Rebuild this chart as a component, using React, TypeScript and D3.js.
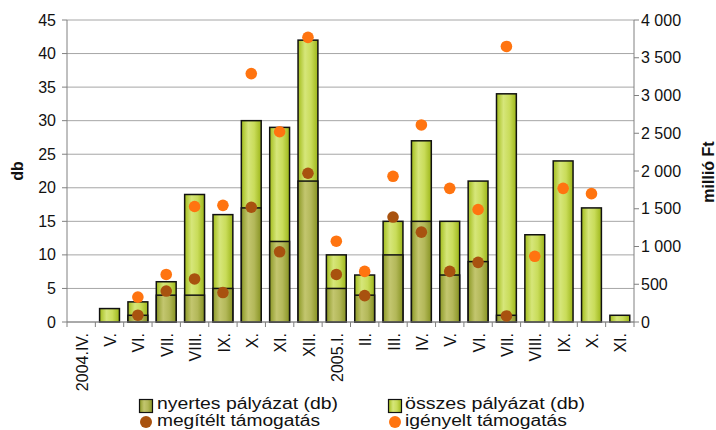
import React from "react";
import * as d3 from "d3";

const categories = ["2004.IV.", "V.", "VI.", "VII.", "VIII.", "IX.", "X.", "XI.", "XII.", "2005.I.", "II.", "III.", "IV.", "V.", "VI.", "VII.", "VIII.", "IX.", "X.", "XI."];
const osszes = [0, 2, 3, 6, 19, 16, 30, 29, 42, 10, 7, 15, 27, 15, 21, 34, 13, 24, 17, 1];
const nyertes = [0, 0, 1, 4, 4, 5, 17, 12, 21, 5, 4, 10, 15, 7, 9, 1, 0, 0, 0, 0];
const megitelt: (number | null)[] = [null, null, 90, 410, 570, 390, 1520, 930, 1970, 630, 350, 1390, 1190, 670, 790, 80, null, null, null, null];
const igenyelt: (number | null)[] = [null, null, 330, 630, 1530, 1545, 3290, 2520, 3770, 1070, 670, 1930, 2610, 1770, 1490, 3650, 870, 1770, 1700, null];
const leftTicks = [0, 5, 10, 15, 20, 25, 30, 35, 40, 45];
const rightTicks = [0, 500, 1000, 1500, 2000, 2500, 3000, 3500, 4000];
const legendLabels = ["nyertes pályázat (db)", "összes pályázat (db)", "megítélt támogatás", "igényelt támogatás"];

const FONT = "'Liberation Sans', Arial, sans-serif";

export default function App() {
  const left = 67, right = 634, top = 20, bottom = 322;
  const idx = categories.map((_, i) => i);
  const xBand = d3.scaleBand<number>().domain(idx).range([left, right]).paddingInner(0.3).paddingOuter(0.15);
  const xStep = d3.scaleBand<number>().domain(idx).range([left, right]).padding(0);
  const yL = d3.scaleLinear().domain([0, 45]).range([bottom, top]);
  const yR = d3.scaleLinear().domain([0, 4000]).range([bottom, top]);
  const bw = xBand.bandwidth();
  const fmt = (v: number) => (v >= 1000 ? `${Math.floor(v / 1000)} ${String(v % 1000).padStart(3, "0")}` : String(v));

  return (
    <svg width={716} height={430} style={{ position: "absolute", left: 0, top: 0, background: "#fff" }} fontFamily={FONT}>
      <defs>
        <linearGradient id="gOssz" x1="0" x2="1" y1="0" y2="0">
          <stop offset="0%" stopColor="#a3bd1c" />
          <stop offset="35%" stopColor="#d6e67a" />
          <stop offset="65%" stopColor="#c9dc5a" />
          <stop offset="100%" stopColor="#9db619" />
        </linearGradient>
        <linearGradient id="gNyer" x1="0" x2="1" y1="0" y2="0">
          <stop offset="0%" stopColor="#8c9926" />
          <stop offset="35%" stopColor="#c3c66f" />
          <stop offset="65%" stopColor="#b3b859" />
          <stop offset="100%" stopColor="#879322" />
        </linearGradient>
      </defs>
      {leftTicks.map((t) => (
        <line key={"g" + t} x1={left} x2={right} y1={yL(t)} y2={yL(t)} stroke="#a6a6a6" strokeWidth={1} />
      ))}
      {osszes.map((v, i) =>
        v > 0 ? (
          <rect key={"o" + i} x={xBand(i)} y={yL(v)} width={bw} height={yL(0) - yL(v)} fill="url(#gOssz)" stroke="#111" strokeWidth={1.5} />
        ) : null
      )}
      {nyertes.map((v, i) =>
        v > 0 ? (
          <rect key={"n" + i} x={xBand(i)} y={yL(v)} width={bw} height={yL(0) - yL(v)} fill="url(#gNyer)" stroke="#111" strokeWidth={1.5} />
        ) : null
      )}
      <line x1={left} x2={left} y1={top} y2={bottom} stroke="#808080" strokeWidth={1} />
      <line x1={right} x2={right} y1={top} y2={bottom} stroke="#808080" strokeWidth={1} />
      <line x1={left} x2={right} y1={bottom} y2={bottom} stroke="#808080" strokeWidth={1} />
      {leftTicks.map((t) => (
        <g key={"lt" + t}>
          <line x1={left - 5} x2={left} y1={yL(t)} y2={yL(t)} stroke="#808080" />
          <text x={56} y={yL(t)} dy="0.35em" textAnchor="end" fontSize={16} fill="#111">{t}</text>
        </g>
      ))}
      {rightTicks.map((t) => (
        <g key={"rt" + t}>
          <line x1={right} x2={right + 5} y1={yR(t)} y2={yR(t)} stroke="#808080" />
          <text x={641} y={yR(t)} dy="0.35em" textAnchor="start" fontSize={16} fill="#111">{fmt(t)}</text>
        </g>
      ))}
      {idx.concat([categories.length]).map((i) => {
        const x = i < categories.length ? (xStep(i) as number) : right;
        return <line key={"bt" + i} x1={x} x2={x} y1={bottom} y2={bottom + 5} stroke="#808080" />;
      })}
      {categories.map((c, i) => {
        const cx = (xStep(i) as number) + xStep.bandwidth() / 2;
        return (
          <text key={"c" + i} transform={`translate(${cx + 1},333) rotate(-90)`} textAnchor="end" dy="0.35em" fontSize={16} fill="#111">{c}</text>
        );
      })}
      {megitelt.map((v, i) =>
        v != null ? <circle key={"m" + i} cx={(xBand(i) as number) + bw / 2} cy={yR(v)} r={5.8} fill="#a8520f" /> : null
      )}
      {igenyelt.map((v, i) =>
        v != null ? <circle key={"ig" + i} cx={(xBand(i) as number) + bw / 2} cy={yR(v)} r={5.8} fill="#ff7410" /> : null
      )}
      <text transform="translate(17,171) rotate(-90)" textAnchor="middle" dy="0.35em" fontSize={16} fontWeight="bold" fill="#111">db</text>
      <text transform="translate(714,172) rotate(-90)" textAnchor="middle" fontSize={16} fontWeight="bold" fill="#111">millió Ft</text>
      <rect x={139.5} y={399.5} width={13} height={13} fill="url(#gNyer)" stroke="#111" strokeWidth={1.2} />
      <text x={157} y={409} fontSize={16} textLength={181} lengthAdjust="spacingAndGlyphs" fill="#111">{legendLabels[0]}</text>
      <rect x={388.5} y={399.5} width={13} height={13} fill="url(#gOssz)" stroke="#111" strokeWidth={1.2} />
      <text x={405} y={409} fontSize={16} textLength={180} lengthAdjust="spacingAndGlyphs" fill="#111">{legendLabels[1]}</text>
      <circle cx={146} cy={422} r={6} fill="#a8520f" />
      <text x={157} y={426} fontSize={16} textLength={163} lengthAdjust="spacingAndGlyphs" fill="#111">{legendLabels[2]}</text>
      <circle cx={395} cy={422} r={6} fill="#ff7410" />
      <text x={405} y={426} fontSize={16} textLength={162} lengthAdjust="spacingAndGlyphs" fill="#111">{legendLabels[3]}</text>
    </svg>
  );
}
